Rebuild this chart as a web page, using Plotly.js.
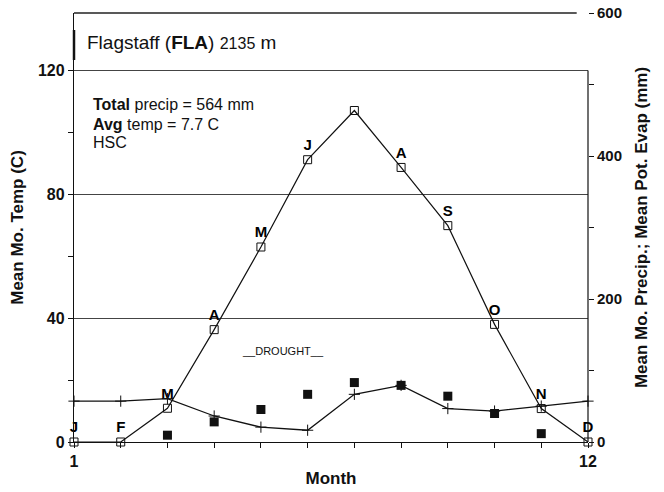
<!DOCTYPE html>
<html>
<head>
<meta charset="utf-8">
<script src="https://cdn.plot.ly/plotly-3.0.1.min.js"></script>
<style>html,body{margin:0;padding:0;background:#fff;}#chart{width:664px;height:492px;}</style>
</head>
<body>
<div id="chart"></div>
<script>
// Data (left-axis units)
var months = [1, 2, 3, 4, 5, 6, 7, 8, 9, 10, 11, 12];
var monthLetters = ['J', 'F', 'M', 'A', 'M', 'J', '', 'A', 'S', 'O', 'N', 'D'];
var potEvap = [0, 0, 10.9, 36.3, 63, 91.2, 107.1, 88.7, 69.9, 38, 10.8, 0];
var precipLine = [13.2, 13.2, 14.0, 8.4, 4.8, 3.8, 15.4, 18.3, 10.8, 10.0, 11.6, 13.2];
var filledMonths = [3, 4, 5, 6, 7, 8, 9, 10, 11];
var filledValues = [2.2, 6.5, 10.5, 15.4, 19.2, 18.3, 14.8, 9.2, 2.7];
var xTickVals = [1, 2, 3, 4, 5, 6, 7, 8, 9, 10, 11, 12];
var xTickText = ['1', '', '', '', '', '', '', '', '', '', '', '12'];
var yTickVals = [0, 40, 80, 120];
var yTickText = ['0', '40', '80', '120'];
var y2TickVals = [0, 200, 400, 600];
var y2TickText = ['0', '200', '400', '600'];

var FONT = 'Liberation Sans, Arial, sans-serif';

var traces = [
  {
    x: months, y: potEvap, type: 'scatter', mode: 'lines+markers+text',
    text: monthLetters.map(function (s) { return s ? '<b>' + s + '</b>' : ''; }),
    textposition: 'top center',
    textfont: { family: FONT, size: 15, color: '#000' },
    line: { color: '#111', width: 1.2 },
    marker: { symbol: 'square-open', size: 8, color: '#111', line: { width: 1 } },
    cliponaxis: false, showlegend: false, hoverinfo: 'skip'
  },
  {
    x: months, y: precipLine, type: 'scatter', mode: 'lines+markers',
    line: { color: '#111', width: 1.3 },
    marker: { symbol: 'cross-thin-open', size: 8, color: '#111', line: { width: 1, color: '#111' } },
    cliponaxis: false, showlegend: false, hoverinfo: 'skip'
  },
  {
    x: filledMonths, y: filledValues, type: 'scatter', mode: 'markers',
    marker: { symbol: 'square', size: 9, color: '#111' },
    cliponaxis: false, showlegend: false, hoverinfo: 'skip'
  },
  {
    x: [1], y: [0], yaxis: 'y2', type: 'scatter', mode: 'markers',
    marker: { opacity: 0 }, showlegend: false, hoverinfo: 'skip'
  }
];

var layout = {
  width: 664, height: 492,
  margin: { l: 74, r: 76, t: 13, b: 50 },
  paper_bgcolor: '#fff', plot_bgcolor: '#fff',
  font: { family: FONT, color: '#111' },
  showlegend: false,
  title: {
    text: 'Flagstaff (<b>FLA</b>) <span style="font-size:16px">2135</span> m',
    x: 87 / 664, xanchor: 'left', xref: 'container',
    y: 1 - 42 / 492, yanchor: 'middle', yref: 'container',
    font: { family: FONT, size: 19, color: '#111' }
  },
  xaxis: {
    range: [1, 12], tickvals: xTickVals, ticktext: xTickText,
    ticks: 'outside', ticklen: 5, tickcolor: '#111',
    showline: true, linecolor: '#111', linewidth: 1.2,
    showgrid: false, zeroline: false,
    tickfont: { family: FONT, size: 16, color: '#111', weight: 'bold' },
    title: { text: '<b>Month</b>', font: { family: FONT, size: 17, color: '#111' }, standoff: 2 }
  },
  yaxis: {
    range: [0, 138.6], tickvals: yTickVals, ticktext: yTickText,
    ticks: 'outside', ticklen: 5, tickcolor: '#111',
    showline: true, linecolor: '#111', linewidth: 1.2,
    showgrid: true, gridcolor: '#444', gridwidth: 1, zeroline: false,
    minor: { dtick: 20, tick0: 0, ticks: 'outside', ticklen: 5, tickcolor: '#111', showgrid: false },
    tickfont: { family: FONT, size: 16, color: '#111', weight: 'bold' },
    title: { text: '<b>Mean Mo. Temp (C)</b>', font: { family: FONT, size: 17, color: '#111' }, standoff: 10 }
  },
  yaxis2: {
    overlaying: 'y', side: 'right', range: [0, 600],
    tickvals: y2TickVals, ticktext: y2TickText,
    ticks: 'outside', ticklen: 5, tickcolor: '#111',
    showline: false, showgrid: false, zeroline: false,
    minor: { dtick: 100, tick0: 0, ticks: 'outside', ticklen: 5, tickcolor: '#111', showgrid: false },
    tickfont: { family: FONT, size: 15, color: '#111', weight: 'bold' },
    title: { text: '<b>Mean Mo. Precip.; Mean Pot. Evap (mm)</b>', font: { family: FONT, size: 17, color: '#111' }, standoff: 14 }
  },
  shapes: [
    { type: 'line', xref: 'paper', yref: 'y', x0: 1, x1: 1, y0: 0, y1: 120, line: { color: '#111', width: 1.2 } },
    { type: 'line', xref: 'paper', yref: 'paper', x0: 0, x1: 0.978, y0: 1, y1: 1, line: { color: '#222', width: 1.5 } },
    { type: 'line', xref: 'paper', yref: 'paper', x0: 0, x1: 0, y0: 1 - 17 / 429, y1: 1 - 47 / 429, line: { color: '#111', width: 2.5 } }
  ],
  annotations: [
    { xref: 'paper', yref: 'paper', x: 17 / 514, y: 1 - 91 / 429, xanchor: 'left', yanchor: 'middle', showarrow: false,
      text: '<b>Total</b> precip = 564 mm', font: { family: FONT, size: 16, color: '#111' } },
    { xref: 'paper', yref: 'paper', x: 17 / 514, y: 1 - 111 / 429, xanchor: 'left', yanchor: 'middle', showarrow: false,
      text: '<b>Avg</b> temp = 7.7 C', font: { family: FONT, size: 16, color: '#111' } },
    { xref: 'paper', yref: 'paper', x: 17 / 514, y: 1 - 130 / 429, xanchor: 'left', yanchor: 'middle', showarrow: false,
      text: 'HSC', font: { family: FONT, size: 16, color: '#111' } },
    { xref: 'paper', yref: 'paper', x: (283 - 74) / 514, y: 1 - (351 - 13) / 429, xanchor: 'center', yanchor: 'middle', showarrow: false,
      text: '__DROUGHT__', font: { family: FONT, size: 11, color: '#111' } }
  ]
};

Plotly.newPlot('chart', traces, layout, { staticPlot: true, displayModeBar: false });
</script>
</body>
</html>
